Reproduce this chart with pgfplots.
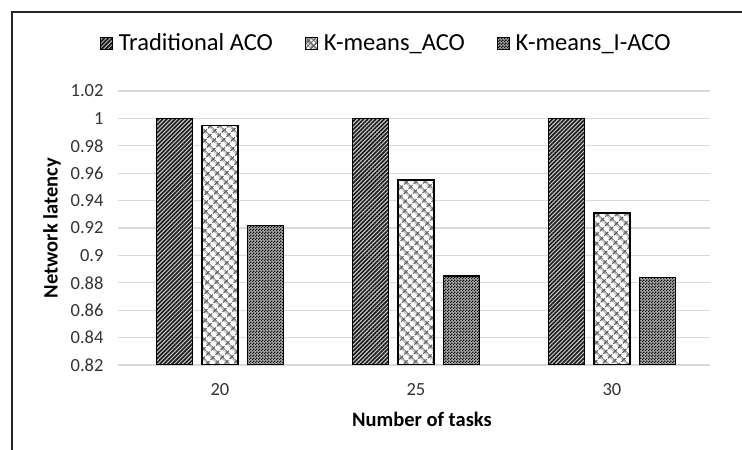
\documentclass[border=0pt]{standalone}
\usepackage{fontspec}
\setmainfont{Carlito}
\usepackage{pgfplots}
\pgfplotsset{compat=1.18}
\usetikzlibrary{patterns.meta}
\tikzdeclarepattern{name=checker, type=uncolored,
  bottom left={(0pt,0pt)}, top right={(3pt,3pt)}, tile size={(3pt,3pt)},
  code={\fill (0pt,0pt) rectangle (1.5pt,1.5pt); \fill (1.5pt,1.5pt) rectangle (3pt,3pt);}}
\tikzset{
  tradstyle/.style={fill=black!20, postaction={pattern={Lines[angle=45,distance=2.9pt,line width=1.6pt]}, pattern color=black!90}},
  kmstyle/.style={fill=white, postaction={pattern={Hatch[angle=45,distance=6.5pt,line width=1.2pt]}, pattern color=black!65}},
  kmistyle/.style={fill=black!35, postaction={pattern=checker, pattern color=black!95}},
}
\begin{document}
\begin{tikzpicture}[x=1pt,y=1pt]
\useasboundingbox (0,0) rectangle (742,450);
\fill[white] (0,0) rectangle (742,450);
\draw[line width=1.4pt, black!85] (12,-2) -- (12,438) -- (744,438);
\begin{axis}[
  at={(118pt,85pt)}, anchor=south west,
  scale only axis, width=592pt, height=274pt,
  xmin=-0.52, xmax=2.5, ymin=0.82, ymax=1.02,
  ybar=9.5pt, bar width=36pt,
  xtick={0,1,2}, xticklabels={20,25,30},
  ytick={0.82,0.84,0.86,0.88,0.9,0.92,0.94,0.96,0.98,1,1.02},
  /pgf/number format/fixed, /pgf/number format/precision=2, /pgf/number format/assume math mode=true,
  ymajorgrids, grid style={line width=1.3pt, color=black!15},
  axis line style={draw=none}, tick style={draw=none},
  tick label style={font=\fontsize{18.5}{21}\selectfont, text=black!80},
  yticklabel style={anchor=east, xshift=-11pt},
  xticklabel style={anchor=center, yshift=-20pt},
  xlabel={\bfseries Number of tasks},
  ylabel={\bfseries Network latency},
  label style={font=\fontsize{20.5}{24}\selectfont},
  xlabel style={at={(axis description cs:0.5135,-0.2)}, anchor=center},
  ylabel style={at={(axis description cs:-0.1115,0.5)}, anchor=center},
  legend style={at={(axis description cs:0.453,1.175)}, anchor=center, draw=none,
    font=\fontsize{24.5}{28}\selectfont, legend columns=3,
    /tikz/every even column/.append style={column sep=30pt},
    /tikz/every odd column/.append style={column sep=0pt},
    inner sep=0pt},
  legend cell align=left,
]
\addplot[draw=black, line width=1.2pt, tradstyle,
  legend image code/.code={\draw[draw=black, line width=0.9pt, tradstyle] (0pt,-6pt) rectangle (12pt,6pt);}]
  coordinates {(0,1.0) (1,1.0) (2,1.0)};
\addlegendentry{\hspace{4pt}Traditional ACO}
\addplot[draw=black, line width=1.2pt, kmstyle,
  legend image code/.code={\draw[draw=black, line width=0.9pt, fill=white, postaction={pattern={Hatch[angle=45,distance=4pt,line width=0.8pt]}, pattern color=black!60}] (0pt,-6pt) rectangle (12pt,6pt);}]
  coordinates {(0,0.995) (1,0.955) (2,0.931)};
\addlegendentry{\hspace{4pt}K-means\_ACO}
\addplot[draw=black, line width=1.2pt, kmistyle,
  legend image code/.code={\draw[draw=black, line width=0.9pt, kmistyle] (0pt,-6pt) rectangle (12pt,6pt);}]
  coordinates {(0,0.922) (1,0.885) (2,0.884)};
\addlegendentry{\hspace{4pt}K-means\_I-ACO}
\end{axis}
\end{tikzpicture}
\end{document}
